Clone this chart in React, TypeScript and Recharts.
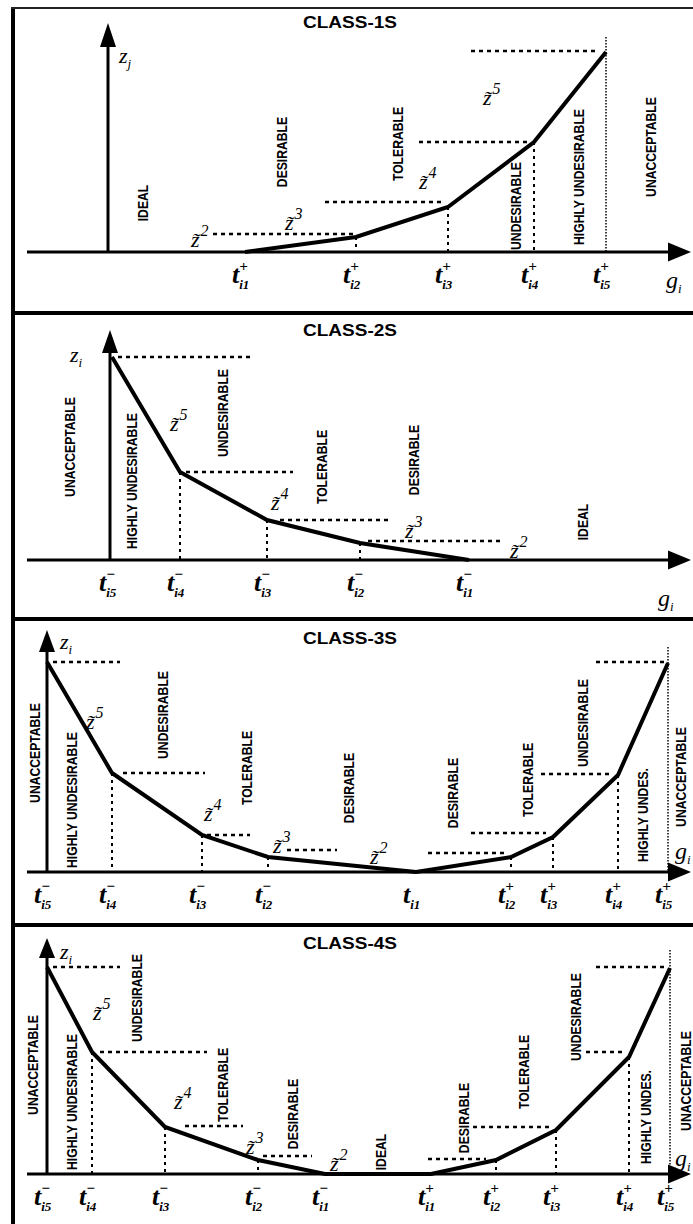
import React from 'react';
import { LineChart, Line, XAxis, YAxis, ReferenceLine, ReferenceDot } from 'recharts';

const W = 693;
const SANS = '"Liberation Sans", Arial, sans-serif';
const SERIF = '"Liberation Serif", "DejaVu Serif", serif';

// CLASS-1S : smaller is better
const c1Bx = [245, 356, 448, 534, 606];
const c1Bz = [0, 15, 45, 110, 200];
const c1TickSub = ['i1', 'i2', 'i3', 'i4', 'i5'];
const c1TickSign = ['+', '+', '+', '+', '+'];
const c1GuideZ = [18, 50, 110, 201];
const c1GuideFrom = [213, 325, 419, 471];
const c1GuideTo = [354, 441, 531, 599];
const c1Drops = [1, 2, 3];
const c1Regions = ['IDEAL', 'DESIRABLE', 'TOLERABLE', 'UNDESIRABLE', 'HIGHLY UNDESIRABLE', 'UNACCEPTABLE'];
const c1RegionX = [143, 282, 398, 516, 579, 651];
const c1RegionZ = [49, 100, 108, 46, 75, 105];
const c1ZNames = ['2', '3', '4', '5'];
const c1ZNameX = [196, 290, 424, 488];
const c1ZNameZ = [11, 28, 69, 153];

// CLASS-2S : larger is better
const c2Bx = [112, 180, 267, 360, 469];
const c2Bz = [203, 88, 40, 17, 0];
const c2TickSub = ['i5', 'i4', 'i3', 'i2', 'i1'];
const c2TickSign = ['\u2212', '\u2212', '\u2212', '\u2212', '\u2212'];
const c2GuideZ = [203, 88, 40, 19];
const c2GuideFrom = [118, 186, 280, 368];
const c2GuideTo = [250, 293, 389, 503];
const c2Drops = [1, 2, 3];
const c2Regions = ['UNACCEPTABLE', 'HIGHLY UNDESIRABLE', 'UNDESIRABLE', 'TOLERABLE', 'DESIRABLE', 'IDEAL'];
const c2RegionX = [70, 132, 223, 322, 414, 583];
const c2RegionZ = [113, 79, 147, 93, 100, 38];
const c2ZNames = ['5', '4', '3', '2'];
const c2ZNameX = [175, 276, 410, 515];
const c2ZNameZ = [135, 56, 28, 8];

// CLASS-3S : value is better
const c3Bx = [47, 112, 202, 268, 416, 511, 553, 618, 668];
const c3Bz = [210, 99, 37, 15, 0, 15, 35, 97, 209];
const c3TickSub = ['i5', 'i4', 'i3', 'i2', 'i1', 'i2', 'i3', 'i4', 'i5'];
const c3TickSign = ['\u2212', '\u2212', '\u2212', '\u2212', '', '+', '+', '+', '+'];
const c3GuideZ = [210, 99, 37, 22, 19, 39, 98, 210];
const c3GuideFrom = [53, 123, 207, 287, 428, 471, 541, 596];
const c3GuideTo = [120, 205, 250, 337, 506, 546, 609, 668];
const c3Drops = [1, 2, 3, 5, 6, 7];
const c3Regions = ['UNACCEPTABLE', 'HIGHLY UNDESIRABLE', 'UNDESIRABLE', 'TOLERABLE', 'DESIRABLE',
  'DESIRABLE', 'TOLERABLE', 'UNDESIRABLE', 'HIGHLY UNDES.', 'UNACCEPTABLE'];
const c3RegionX = [35, 72, 163, 247, 349, 453, 528, 583, 643, 681];
const c3RegionZ = [119, 72, 157, 104, 84, 79, 92, 149, 57, 95];
const c3ZNames = ['5', '4', '3', '2'];
const c3ZNameX = [91, 209, 278, 375];
const c3ZNameZ = [149, 57, 25, 14];

// CLASS-4S : range is better
const c4Bx = [47, 92, 165, 258, 325, 431, 496, 556, 629, 670];
const c4Bz = [207, 122, 47, 14, 0, 0, 14, 44, 117, 206];
const c4TickSub = ['i5', 'i4', 'i3', 'i2', 'i1', 'i1', 'i2', 'i3', 'i4', 'i5'];
const c4TickSign = ['\u2212', '\u2212', '\u2212', '\u2212', '\u2212', '+', '+', '+', '+', '+'];
const c4GuideZ = [207, 122, 48, 18, 15, 47, 122, 207];
const c4GuideFrom = [53, 100, 185, 263, 428, 473, 586, 596];
const c4GuideTo = [120, 207, 243, 312, 486, 549, 626, 668];
const c4Drops = [1, 2, 3, 6, 7, 8];
const c4Regions = ['UNACCEPTABLE', 'HIGHLY UNDESIRABLE', 'UNDESIRABLE', 'TOLERABLE', 'DESIRABLE', 'IDEAL',
  'DESIRABLE', 'TOLERABLE', 'UNDESIRABLE', 'HIGHLY UNDES.', 'UNACCEPTABLE'];
const c4RegionX = [33, 72, 137, 223, 293, 381, 464, 524, 576, 646, 686];
const c4RegionZ = [109, 72, 176, 89, 60, 22, 56, 102, 157, 57, 93];
const c4ZNames = ['5', '4', '3', '2'];
const c4ZNameX = [98, 179, 251, 335];
const c4ZNameZ = [160, 71, 26, 9];

type Panel = {
  title: string; top: number; height: number; base: number; titleY: number;
  vx: number; vTip: number; vHead: number;
  bx: number[]; bz: number[]; tickSub: string[]; tickSign: string[];
  guideZ: number[]; guideFrom: number[]; guideTo: number[];
  drops: number[]; fullTop?: number;
  regions: string[]; regionX: number[]; regionZ: number[];
  zNames: string[]; zNameX: number[]; zNameZ: number[];
  axisSub: string; axisLabel: [number, number]; gLabel: [number, number];
};

const panels: Panel[] = [
  {
    title: 'CLASS-1S', top: 10, height: 301, base: 242, titleY: 18, vx: 108, vTip: 229, vHead: 24,
    bx: c1Bx, bz: c1Bz, tickSub: c1TickSub, tickSign: c1TickSign,
    guideZ: c1GuideZ, guideFrom: c1GuideFrom, guideTo: c1GuideTo, drops: c1Drops, fullTop: 215,
    regions: c1Regions, regionX: c1RegionX, regionZ: c1RegionZ,
    zNames: c1ZNames, zNameX: c1ZNameX, zNameZ: c1ZNameZ,
    axisSub: 'j', axisLabel: [124, 195], gLabel: [671, -30],
  },
  {
    title: 'CLASS-2S', top: 315, height: 302, base: 245, titleY: 21, vx: 110, vTip: 230, vHead: 23,
    bx: c2Bx, bz: c2Bz, tickSub: c2TickSub, tickSign: c2TickSign,
    guideZ: c2GuideZ, guideFrom: c2GuideFrom, guideTo: c2GuideTo, drops: c2Drops,
    regions: c2Regions, regionX: c2RegionX, regionZ: c2RegionZ,
    zNames: c2ZNames, zNameX: c2ZNameX, zNameZ: c2ZNameZ,
    axisSub: 'i', axisLabel: [75, 204], gLabel: [663, -40],
  },
  {
    title: 'CLASS-3S', top: 621, height: 302, base: 251, titleY: 23, vx: 47, vTip: 242, vHead: 22,
    bx: c3Bx, bz: c3Bz, tickSub: c3TickSub, tickSign: c3TickSign,
    guideZ: c3GuideZ, guideFrom: c3GuideFrom, guideTo: c3GuideTo, drops: c3Drops, fullTop: 225,
    regions: c3Regions, regionX: c3RegionX, regionZ: c3RegionZ,
    zNames: c3ZNames, zNameX: c3ZNameX, zNameZ: c3ZNameZ,
    axisSub: 'i', axisLabel: [65, 229], gLabel: [680, 19],
  },
  {
    title: 'CLASS-4S', top: 928, height: 296, base: 246, titleY: 21, vx: 47, vTip: 236, vHead: 20,
    bx: c4Bx, bz: c4Bz, tickSub: c4TickSub, tickSign: c4TickSign,
    guideZ: c4GuideZ, guideFrom: c4GuideFrom, guideTo: c4GuideTo, drops: c4Drops, fullTop: 224,
    regions: c4Regions, regionX: c4RegionX, regionZ: c4RegionZ,
    zNames: c4ZNames, zNameX: c4ZNameX, zNameZ: c4ZNameZ,
    axisSub: 'i', axisLabel: [65, 221], gLabel: [680, 14],
  },
];

// line with a filled triangular head at its end point
const arrow = (head: number, half: number, width: number) => (p: any) => {
  const { x1, y1, x2, y2 } = p;
  const len = Math.hypot(x2 - x1, y2 - y1) || 1;
  const ux = (x2 - x1) / len;
  const uy = (y2 - y1) / len;
  const bx = x2 - ux * head;
  const by = y2 - uy * head;
  const pts = `${x2},${y2} ${bx - uy * half},${by + ux * half} ${bx + uy * half},${by - ux * half}`;
  return (
    <g>
      <line x1={x1} y1={y1} x2={bx} y2={by} stroke="#000" strokeWidth={width} />
      <polygon points={pts} fill="#000" />
    </g>
  );
};

// t with subscript and a sign stacked over the subscript
const makeTick = (xs: number[], subs: string[], signs: string[]) => (props: any) => {
  const { x, y, payload } = props;
  const i = xs.indexOf(payload.value);
  return (
    <text x={x - 13} y={y + 31} fontFamily={SERIF} fontStyle="italic" fontWeight="bold" fontSize={26} fill="#000">
      t
      <tspan dy={6} fontSize={13}>{subs[i]}</tspan>
      {signs[i] && <tspan dx={-10} dy={-18} fontSize={15}>{signs[i]}</tspan>}
    </text>
  );
};

const regionShape = (text: string) => (p: any) => (
  <text
    transform={`translate(${p.cx},${p.cy}) rotate(-90) scale(0.87,1)`}
    textAnchor="middle" dominantBaseline="central"
    fontFamily={SANS} fontWeight="bold" fontSize={14} fill="#000"
  >
    {text}
  </text>
);

// z with a combining tilde and the level number raised after it
const zTildeShape = (n: string) => (p: any) => (
  <text x={p.cx - 5} y={p.cy + 6} fontFamily={SERIF} fontStyle="italic" fontSize={22} fill="#000">
    {'z\u0303'}
    <tspan dx={1} dy={-11} fontSize={16}>{n}</tspan>
  </text>
);

const symShape = (sym: string, sub: string, size: number) => (p: any) => (
  <text x={p.cx - 5} y={p.cy + 6} fontFamily={SERIF} fontStyle="italic" fontSize={size} fill="#000">
    {sym}
    <tspan dy={5} fontSize={13}>{sub}</tspan>
  </text>
);

function ClassChart({ s }: { s: Panel }) {
  const curve = s.bx.map((x, i) => ({ x, z: s.bz[i] }));
  const last = s.bx.length - 1;
  return (
    <div style={{ position: 'absolute', left: 0, top: s.top }}>
      <LineChart width={W} height={s.height} data={curve} margin={{ top: 0, right: 0, bottom: 0, left: 0 }}>
        <XAxis
          type="number" dataKey="x" domain={[0, W]} ticks={s.bx} interval={0}
          axisLine={false} tickLine={false} tickSize={0} tickMargin={0}
          height={s.height - s.base}
          tick={makeTick(s.bx, s.tickSub, s.tickSign)}
        />
        <YAxis hide type="number" domain={[0, s.base]} />

        <text x={350} y={s.titleY} textAnchor="middle" fontFamily={SANS} fontWeight="bold" fontSize={17}
          transform="translate(350,0) scale(1.12,1) translate(-350,0)">
          {s.title}
        </text>

        {s.guideZ.map((z, i) => (
          <ReferenceLine key={`g${i}`} ifOverflow="visible"
            segment={[{ x: s.guideFrom[i], y: z }, { x: s.guideTo[i], y: z }]}
            stroke="#000" strokeWidth={2.5} strokeDasharray="4 4" />
        ))}
        {s.drops.map((i) => (
          <ReferenceLine key={`d${i}`} ifOverflow="visible"
            segment={[{ x: s.bx[i], y: s.bz[i] }, { x: s.bx[i], y: 0 }]}
            stroke="#000" strokeWidth={2} strokeDasharray="3 4" />
        ))}
        {s.fullTop !== undefined && (
          <ReferenceLine ifOverflow="visible"
            segment={[{ x: s.bx[last], y: s.fullTop }, { x: s.bx[last], y: 0 }]}
            stroke="#000" strokeWidth={1.5} strokeDasharray="1.5 1.5" />
        )}

        <ReferenceLine ifOverflow="visible" segment={[{ x: 27, y: 0 }, { x: 691, y: 0 }]}
          shape={arrow(23, 9.5, 3)} />
        <ReferenceLine ifOverflow="visible" segment={[{ x: s.vx, y: 0 }, { x: s.vx, y: s.vTip }]}
          shape={arrow(s.vHead, 8, 3)} />

        <Line dataKey="z" type="linear" stroke="#000" strokeWidth={4} dot={false} activeDot={false}
          isAnimationActive={false} />

        {s.regions.map((r, i) => (
          <ReferenceDot key={`r${i}`} ifOverflow="visible" x={s.regionX[i]} y={s.regionZ[i]} shape={regionShape(r)} />
        ))}
        {s.zNames.map((n, i) => (
          <ReferenceDot key={`z${i}`} ifOverflow="visible" x={s.zNameX[i]} y={s.zNameZ[i]} shape={zTildeShape(n)} />
        ))}
        <ReferenceDot ifOverflow="visible" x={s.axisLabel[0]} y={s.axisLabel[1]} shape={symShape('z', s.axisSub, 22)} />
        <ReferenceDot ifOverflow="visible" x={s.gLabel[0]} y={s.gLabel[1]} shape={symShape('g', 'i', 24)} />
      </LineChart>
    </div>
  );
}

export default function App() {
  return (
    <div style={{ position: 'absolute', left: 0, top: 0, width: W, height: 1224, background: '#fff', overflow: 'hidden' }}>
      {panels.map((s) => <ClassChart key={s.title} s={s} />)}
      {/* frame: left rule, top rule and panel separators */}
      <div style={{ position: 'absolute', left: 11, top: 7, width: 4, height: 1217, background: '#000' }} />
      <div style={{ position: 'absolute', left: 11, top: 7, width: 682, height: 2, background: '#222' }} />
      {[311, 617, 923].map((y) => (
        <div key={y} style={{ position: 'absolute', left: 11, top: y, width: 682, height: 4, background: '#000' }} />
      ))}
    </div>
  );
}
